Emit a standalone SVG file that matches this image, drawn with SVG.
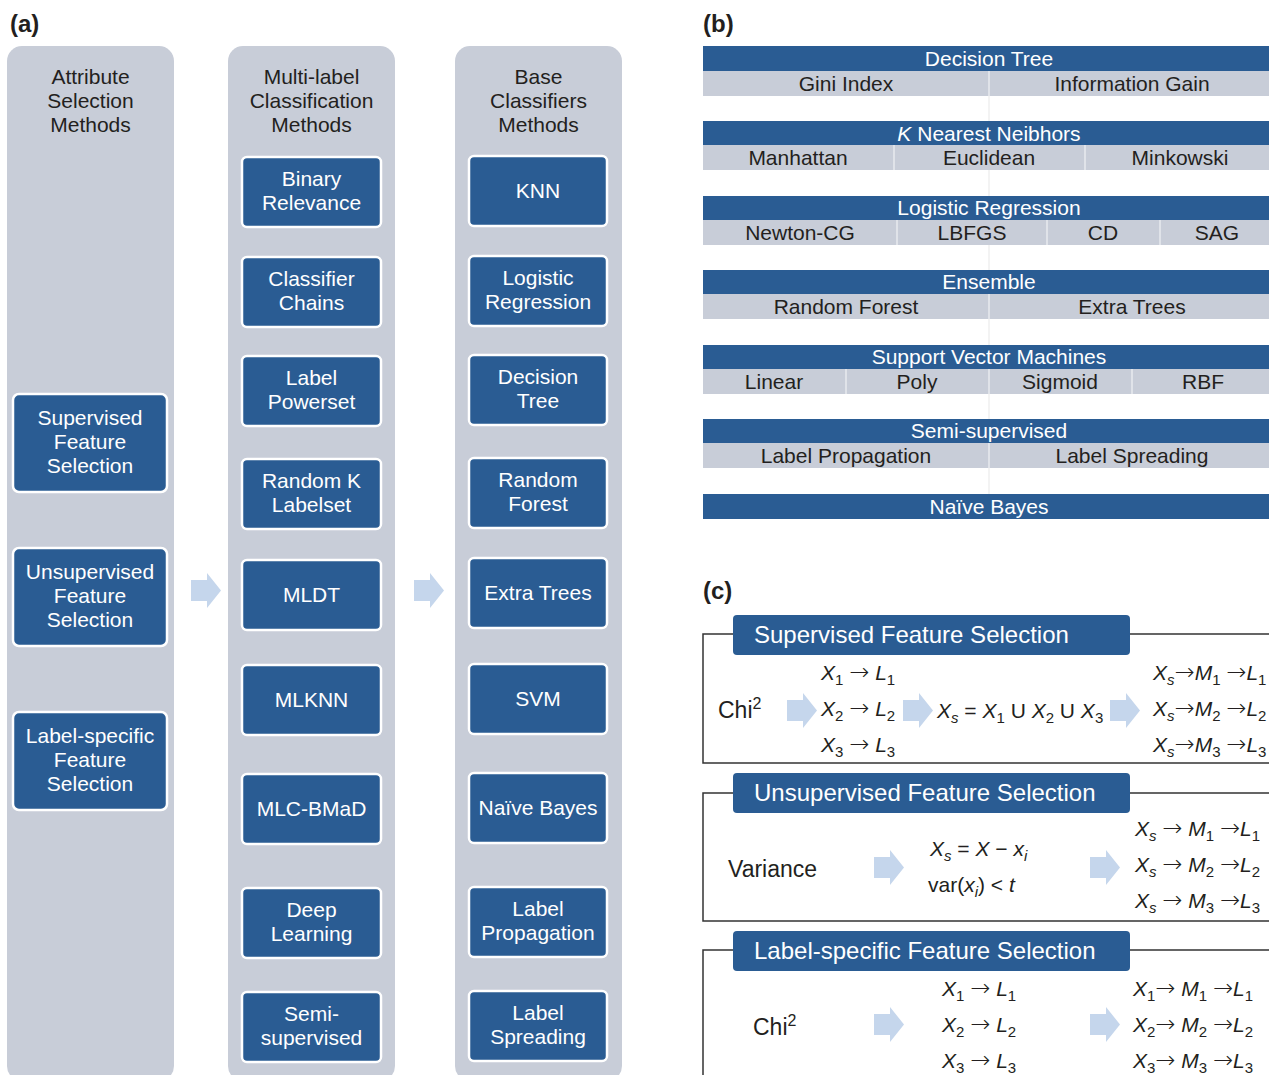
<svg xmlns="http://www.w3.org/2000/svg" xmlns:xlink="http://www.w3.org/1999/xlink" width="1269" height="1075" viewBox="0 0 1269 1075">
<style>
text{font-family:"Liberation Sans",Arial,Helvetica,sans-serif;}
.col{fill:#c8cdd8;}
.node rect{fill:#2a5c93;stroke:#ffffff;stroke-width:2.5;}
.nt{fill:#ffffff;font-size:21px;text-anchor:middle;}
.dt{fill:#231f20;font-size:21px;text-anchor:middle;}
.hdr{fill:#2a5c93;}
.row{fill:#c8cdd8;}
.dv{stroke:#e0e3e9;stroke-width:2;}
.frame{fill:none;stroke:#333333;stroke-width:1.5;}
.arr{fill:#c5d6ec;}
.f{font-size:21px;fill:#231f20;}
.big{font-size:23px;fill:#231f20;}
.i{font-style:italic;}
.ar{font-family:"DejaVu Sans",sans-serif;font-weight:200;font-size:24px;}
.sb{font-size:15px;}
.pl{font-size:24px;font-weight:bold;fill:#231f20;}
.ch{fill:#ffffff;font-size:24px;}
</style>
<defs>
<path id="blk" d="M0,7 H16 V0 L30,17.5 L16,35 V28 H0 Z"/>
</defs>
<rect width="1269" height="1075" fill="#ffffff"/>

<!-- Panel labels -->
<text class="pl" x="10" y="32">(a)</text>
<text class="pl" x="703" y="32">(b)</text>
<text class="pl" x="703" y="599">(c)</text>

<!-- Panel (a) columns -->
<g id="col-attribute">
<rect class="col" x="7" y="46" width="167" height="1035" rx="15"/>
<text class="dt" x="90.5" y="84">Attribute</text>
<text class="dt" x="90.5" y="108">Selection</text>
<text class="dt" x="90.5" y="132">Methods</text>
</g>
<g id="col-multilabel">
<rect class="col" x="228" y="46" width="167" height="1035" rx="15"/>
<text class="dt" x="311.5" y="84">Multi-label</text>
<text class="dt" x="311.5" y="108">Classification</text>
<text class="dt" x="311.5" y="132">Methods</text>
</g>
<g id="col-base">
<rect class="col" x="455" y="46" width="167" height="1035" rx="15"/>
<text class="dt" x="538.5" y="84">Base</text>
<text class="dt" x="538.5" y="108">Classifiers</text>
<text class="dt" x="538.5" y="132">Methods</text>
</g>

<!-- Column 1 nodes -->
<g id="n-supervised" class="node"><rect x="13" y="394" width="154" height="98" rx="6"/>
<text class="nt" x="90" y="425">Supervised</text><text class="nt" x="90" y="449">Feature</text><text class="nt" x="90" y="473">Selection</text></g>
<g id="n-unsupervised" class="node"><rect x="13" y="548" width="154" height="98" rx="6"/>
<text class="nt" x="90" y="579">Unsupervised</text><text class="nt" x="90" y="603">Feature</text><text class="nt" x="90" y="627">Selection</text></g>
<g id="n-labelspecific" class="node"><rect x="13" y="712" width="154" height="98" rx="6"/>
<text class="nt" x="90" y="743">Label-specific</text><text class="nt" x="90" y="767">Feature</text><text class="nt" x="90" y="791">Selection</text></g>

<!-- Column 2 nodes -->
<g id="n-br" class="node"><rect x="242" y="157" width="139" height="70" rx="5"/>
<text class="nt" x="311.5" y="186">Binary</text><text class="nt" x="311.5" y="210">Relevance</text></g>
<g id="n-cc" class="node"><rect x="242" y="257" width="139" height="70" rx="5"/>
<text class="nt" x="311.5" y="286">Classifier</text><text class="nt" x="311.5" y="310">Chains</text></g>
<g id="n-lp" class="node"><rect x="242" y="356" width="139" height="70" rx="5"/>
<text class="nt" x="311.5" y="385">Label</text><text class="nt" x="311.5" y="409">Powerset</text></g>
<g id="n-rk" class="node"><rect x="242" y="459" width="139" height="70" rx="5"/>
<text class="nt" x="311.5" y="488">Random K</text><text class="nt" x="311.5" y="512">Labelset</text></g>
<g id="n-mldt" class="node"><rect x="242" y="560" width="139" height="70" rx="5"/>
<text class="nt" x="311.5" y="602">MLDT</text></g>
<g id="n-mlknn" class="node"><rect x="242" y="665" width="139" height="70" rx="5"/>
<text class="nt" x="311.5" y="707">MLKNN</text></g>
<g id="n-mlcbmad" class="node"><rect x="242" y="774" width="139" height="70" rx="5"/>
<text class="nt" x="311.5" y="816">MLC-BMaD</text></g>
<g id="n-dl" class="node"><rect x="242" y="888" width="139" height="70" rx="5"/>
<text class="nt" x="311.5" y="917">Deep</text><text class="nt" x="311.5" y="941">Learning</text></g>
<g id="n-semi" class="node"><rect x="242" y="992" width="139" height="70" rx="5"/>
<text class="nt" x="311.5" y="1021">Semi-</text><text class="nt" x="311.5" y="1045">supervised</text></g>

<!-- Column 3 nodes -->
<g id="n-knn" class="node"><rect x="469" y="156" width="138" height="70" rx="5"/>
<text class="nt" x="538" y="198">KNN</text></g>
<g id="n-logreg" class="node"><rect x="469" y="256" width="138" height="70" rx="5"/>
<text class="nt" x="538" y="285">Logistic</text><text class="nt" x="538" y="309">Regression</text></g>
<g id="n-dtree" class="node"><rect x="469" y="355" width="138" height="70" rx="5"/>
<text class="nt" x="538" y="384">Decision</text><text class="nt" x="538" y="408">Tree</text></g>
<g id="n-rf" class="node"><rect x="469" y="458" width="138" height="70" rx="5"/>
<text class="nt" x="538" y="487">Random</text><text class="nt" x="538" y="511">Forest</text></g>
<g id="n-et" class="node"><rect x="469" y="558" width="138" height="70" rx="5"/>
<text class="nt" x="538" y="600">Extra Trees</text></g>
<g id="n-svm" class="node"><rect x="469" y="664" width="138" height="70" rx="5"/>
<text class="nt" x="538" y="706">SVM</text></g>
<g id="n-nb" class="node"><rect x="469" y="773" width="138" height="70" rx="5"/>
<text class="nt" x="538" y="815">Naïve Bayes</text></g>
<g id="n-lprop" class="node"><rect x="469" y="887" width="138" height="70" rx="5"/>
<text class="nt" x="538" y="916">Label</text><text class="nt" x="538" y="940">Propagation</text></g>
<g id="n-lspread" class="node"><rect x="469" y="991" width="138" height="70" rx="5"/>
<text class="nt" x="538" y="1020">Label</text><text class="nt" x="538" y="1044">Spreading</text></g>

<!-- Connectors (block arrows) -->
<g id="connectors" class="arr">
<use xlink:href="#blk" href="#blk" x="191" y="573"/>
<use xlink:href="#blk" href="#blk" x="414" y="573"/>
<use xlink:href="#blk" href="#blk" x="787" y="693"/>
<use xlink:href="#blk" href="#blk" x="903" y="693"/>
<use xlink:href="#blk" href="#blk" x="1110" y="693"/>
<use xlink:href="#blk" href="#blk" x="874" y="850"/>
<use xlink:href="#blk" href="#blk" x="1090" y="850"/>
<use xlink:href="#blk" href="#blk" x="874" y="1007"/>
<use xlink:href="#blk" href="#blk" x="1090" y="1007"/>
</g>

<!-- Panel (b) -->
<line x1="989" y1="46" x2="989" y2="519" stroke="#efefef" stroke-width="1.5"/>
<g id="b-dt">
<rect class="hdr" x="703" y="46" width="572" height="25"/>
<rect class="row" x="703" y="71" width="572" height="25"/>
<line class="dv" x1="989" y1="71" x2="989" y2="96"/>
<text class="nt" x="989" y="66">Decision Tree</text>
<text class="dt" x="846" y="91">Gini Index</text>
<text class="dt" x="1132" y="91">Information Gain</text>
</g>
<g id="b-knn">
<rect class="hdr" x="703" y="121" width="572" height="24"/>
<rect class="row" x="703" y="145" width="572" height="25"/>
<line class="dv" x1="894" y1="145" x2="894" y2="170"/>
<line class="dv" x1="1085" y1="145" x2="1085" y2="170"/>
<text class="nt" x="989" y="141"><tspan class="i">K</tspan> Nearest Neibhors</text>
<text class="dt" x="798" y="165">Manhattan</text>
<text class="dt" x="989" y="165">Euclidean</text>
<text class="dt" x="1180" y="165">Minkowski</text>
</g>
<g id="b-lr">
<rect class="hdr" x="703" y="196" width="572" height="24"/>
<rect class="row" x="703" y="220" width="572" height="25"/>
<line class="dv" x1="897" y1="220" x2="897" y2="245"/>
<line class="dv" x1="1047" y1="220" x2="1047" y2="245"/>
<line class="dv" x1="1160" y1="220" x2="1160" y2="245"/>
<text class="nt" x="989" y="215">Logistic Regression</text>
<text class="dt" x="800" y="240">Newton-CG</text>
<text class="dt" x="972" y="240">LBFGS</text>
<text class="dt" x="1103" y="240">CD</text>
<text class="dt" x="1217" y="240">SAG</text>
</g>
<g id="b-ens">
<rect class="hdr" x="703" y="270" width="572" height="24"/>
<rect class="row" x="703" y="294" width="572" height="25"/>
<line class="dv" x1="989" y1="294" x2="989" y2="319"/>
<text class="nt" x="989" y="289">Ensemble</text>
<text class="dt" x="846" y="314">Random Forest</text>
<text class="dt" x="1132" y="314">Extra Trees</text>
</g>
<g id="b-svm">
<rect class="hdr" x="703" y="345" width="572" height="24"/>
<rect class="row" x="703" y="369" width="572" height="25"/>
<line class="dv" x1="846" y1="369" x2="846" y2="394"/>
<line class="dv" x1="989" y1="369" x2="989" y2="394"/>
<line class="dv" x1="1132" y1="369" x2="1132" y2="394"/>
<text class="nt" x="989" y="364">Support Vector Machines</text>
<text class="dt" x="774" y="389">Linear</text>
<text class="dt" x="917" y="389">Poly</text>
<text class="dt" x="1060" y="389">Sigmoid</text>
<text class="dt" x="1203" y="389">RBF</text>
</g>
<g id="b-semi">
<rect class="hdr" x="703" y="419" width="572" height="24"/>
<rect class="row" x="703" y="443" width="572" height="25"/>
<line class="dv" x1="989" y1="443" x2="989" y2="468"/>
<text class="nt" x="989" y="438">Semi-supervised</text>
<text class="dt" x="846" y="463">Label Propagation</text>
<text class="dt" x="1132" y="463">Label Spreading</text>
</g>
<g id="b-nb">
<rect class="hdr" x="703" y="494" width="572" height="25"/>
<text class="nt" x="989" y="514">Naïve Bayes</text>
</g>

<!-- Panel (c) -->
<g id="c-supervised">
<path class="frame" d="M733,634 H703 V763 H1275 M1130,634 H1275"/>
<rect class="hdr" x="733" y="615" width="397" height="40" rx="4"/>
<text class="ch" x="754" y="643">Supervised Feature Selection</text>
<text class="big" x="718" y="718">Chi<tspan dy="-9" font-size="16">2</tspan></text>
<text class="f" x="821" y="680"><tspan class="i">X</tspan><tspan class="sb" dy="5">1</tspan><tspan dy="-5"> </tspan><tspan class="ar">→</tspan> <tspan class="i">L</tspan><tspan class="sb" dy="5">1</tspan></text>
<text class="f" x="821" y="716"><tspan class="i">X</tspan><tspan class="sb" dy="5">2</tspan><tspan dy="-5"> </tspan><tspan class="ar">→</tspan> <tspan class="i">L</tspan><tspan class="sb" dy="5">2</tspan></text>
<text class="f" x="821" y="752"><tspan class="i">X</tspan><tspan class="sb" dy="5">3</tspan><tspan dy="-5"> </tspan><tspan class="ar">→</tspan> <tspan class="i">L</tspan><tspan class="sb" dy="5">3</tspan></text>
<text class="f" x="937" y="718"><tspan class="i">X</tspan><tspan class="i sb" dy="5">s</tspan><tspan dy="-5"> = </tspan><tspan class="i">X</tspan><tspan class="sb" dy="5">1</tspan><tspan dy="-5"> U </tspan><tspan class="i">X</tspan><tspan class="sb" dy="5">2</tspan><tspan dy="-5"> U </tspan><tspan class="i">X</tspan><tspan class="sb" dy="5">3</tspan></text>
<text class="f" x="1153" y="680"><tspan class="i">X</tspan><tspan class="i sb" dy="5">s</tspan><tspan class="ar" dy="-5">→</tspan><tspan class="i">M</tspan><tspan class="sb" dy="5">1</tspan><tspan dy="-5"> </tspan><tspan class="ar">→</tspan><tspan class="i">L</tspan><tspan class="sb" dy="5">1</tspan></text>
<text class="f" x="1153" y="716"><tspan class="i">X</tspan><tspan class="i sb" dy="5">s</tspan><tspan class="ar" dy="-5">→</tspan><tspan class="i">M</tspan><tspan class="sb" dy="5">2</tspan><tspan dy="-5"> </tspan><tspan class="ar">→</tspan><tspan class="i">L</tspan><tspan class="sb" dy="5">2</tspan></text>
<text class="f" x="1153" y="752"><tspan class="i">X</tspan><tspan class="i sb" dy="5">s</tspan><tspan class="ar" dy="-5">→</tspan><tspan class="i">M</tspan><tspan class="sb" dy="5">3</tspan><tspan dy="-5"> </tspan><tspan class="ar">→</tspan><tspan class="i">L</tspan><tspan class="sb" dy="5">3</tspan></text>
</g>
<g id="c-unsupervised">
<path class="frame" d="M733,793 H703 V921 H1275 M1130,793 H1275"/>
<rect class="hdr" x="733" y="773" width="397" height="40" rx="4"/>
<text class="ch" x="754" y="801">Unsupervised Feature Selection</text>
<text class="big" x="728" y="877">Variance</text>
<text class="f" x="930" y="856"><tspan class="i">X</tspan><tspan class="i sb" dy="5">s</tspan><tspan dy="-5"> = </tspan><tspan class="i">X</tspan><tspan> − </tspan><tspan class="i">x</tspan><tspan class="i sb" dy="5">i</tspan></text>
<text class="f" x="928" y="892">var(<tspan class="i">x</tspan><tspan class="i sb" dy="5">i</tspan><tspan dy="-5">) &lt; </tspan><tspan class="i">t</tspan></text>
<text class="f" x="1135" y="836"><tspan class="i">X</tspan><tspan class="i sb" dy="5">s</tspan><tspan dy="-5"> </tspan><tspan class="ar">→</tspan> <tspan class="i">M</tspan><tspan class="sb" dy="5">1</tspan><tspan dy="-5"> </tspan><tspan class="ar">→</tspan><tspan class="i">L</tspan><tspan class="sb" dy="5">1</tspan></text>
<text class="f" x="1135" y="872"><tspan class="i">X</tspan><tspan class="i sb" dy="5">s</tspan><tspan dy="-5"> </tspan><tspan class="ar">→</tspan> <tspan class="i">M</tspan><tspan class="sb" dy="5">2</tspan><tspan dy="-5"> </tspan><tspan class="ar">→</tspan><tspan class="i">L</tspan><tspan class="sb" dy="5">2</tspan></text>
<text class="f" x="1135" y="908"><tspan class="i">X</tspan><tspan class="i sb" dy="5">s</tspan><tspan dy="-5"> </tspan><tspan class="ar">→</tspan> <tspan class="i">M</tspan><tspan class="sb" dy="5">3</tspan><tspan dy="-5"> </tspan><tspan class="ar">→</tspan><tspan class="i">L</tspan><tspan class="sb" dy="5">3</tspan></text>
</g>
<g id="c-labelspecific">
<path class="frame" d="M733,950 H703 V1080 M1130,950 H1275"/>
<rect class="hdr" x="733" y="931" width="397" height="40" rx="4"/>
<text class="ch" x="754" y="959">Label-specific Feature Selection</text>
<text class="big" x="753" y="1035">Chi<tspan dy="-9" font-size="16">2</tspan></text>
<text class="f" x="942" y="996"><tspan class="i">X</tspan><tspan class="sb" dy="5">1</tspan><tspan dy="-5"> </tspan><tspan class="ar">→</tspan> <tspan class="i">L</tspan><tspan class="sb" dy="5">1</tspan></text>
<text class="f" x="942" y="1032"><tspan class="i">X</tspan><tspan class="sb" dy="5">2</tspan><tspan dy="-5"> </tspan><tspan class="ar">→</tspan> <tspan class="i">L</tspan><tspan class="sb" dy="5">2</tspan></text>
<text class="f" x="942" y="1068"><tspan class="i">X</tspan><tspan class="sb" dy="5">3</tspan><tspan dy="-5"> </tspan><tspan class="ar">→</tspan> <tspan class="i">L</tspan><tspan class="sb" dy="5">3</tspan></text>
<text class="f" x="1133" y="996"><tspan class="i">X</tspan><tspan class="sb" dy="5">1</tspan><tspan class="ar" dy="-5">→</tspan> <tspan class="i">M</tspan><tspan class="sb" dy="5">1</tspan><tspan dy="-5"> </tspan><tspan class="ar">→</tspan><tspan class="i">L</tspan><tspan class="sb" dy="5">1</tspan></text>
<text class="f" x="1133" y="1032"><tspan class="i">X</tspan><tspan class="sb" dy="5">2</tspan><tspan class="ar" dy="-5">→</tspan> <tspan class="i">M</tspan><tspan class="sb" dy="5">2</tspan><tspan dy="-5"> </tspan><tspan class="ar">→</tspan><tspan class="i">L</tspan><tspan class="sb" dy="5">2</tspan></text>
<text class="f" x="1133" y="1068"><tspan class="i">X</tspan><tspan class="sb" dy="5">3</tspan><tspan class="ar" dy="-5">→</tspan> <tspan class="i">M</tspan><tspan class="sb" dy="5">3</tspan><tspan dy="-5"> </tspan><tspan class="ar">→</tspan><tspan class="i">L</tspan><tspan class="sb" dy="5">3</tspan></text>
</g>
</svg>
